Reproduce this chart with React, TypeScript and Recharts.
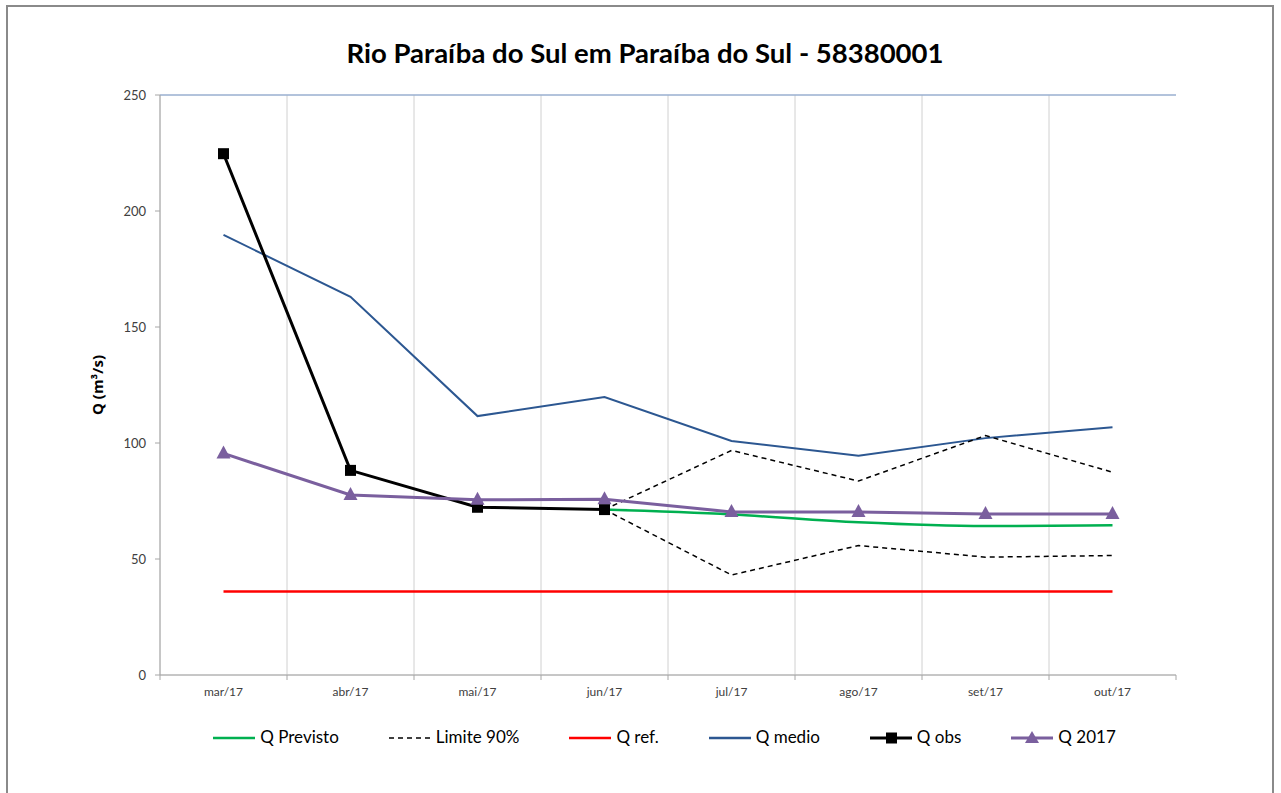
import { LineChart, Line, XAxis, YAxis, CartesianGrid, ReferenceLine } from 'recharts'

const months = ['mar/17', 'abr/17', 'mai/17', 'jun/17', 'jul/17', 'ago/17', 'set/17', 'out/17']
const qPrevisto = [null, null, null, 71.3, 69.2, 65.8, 64.2, 64.5]
const limSup = [null, null, null, 71.3, 96.8, 83.6, 103.2, 87.4]
const limInf = [null, null, null, 71.3, 43.1, 55.8, 50.8, 51.5]
const qRef = [36, 36, 36, 36, 36, 36, 36, 36]
const qMedio = [189.7, 163, 111.6, 119.8, 100.9, 94.5, 102.1, 106.8]
const qObs = [224.7, 88.2, 72.3, 71.3, null, null, null, null]
const q2017 = [95.5, 77.6, 75.5, 75.8, 70.3, 70.3, 69.4, 69.4]
const yTicks = [0, 50, 100, 150, 200, 250]

const data = months.map((m, i) => ({
  mes: m,
  previsto: qPrevisto[i],
  sup: limSup[i],
  inf: limInf[i],
  ref: qRef[i],
  medio: qMedio[i],
  obs: qObs[i],
  q2017: q2017[i],
}))

const FONT = 'Lato, "Open Sans", sans-serif'
const PLOT_LEFT = 160
const PLOT_W = 1016

const XTick = (props: any) => {
  const { x, y, payload, index } = props
  const bw = PLOT_W / months.length
  return (
    <g>
      <line x1={x - bw / 2} x2={x - bw / 2} y1={y} y2={y + 5} stroke="#a6a6a6" />
      {index === months.length - 1 && (
        <line x1={x + bw / 2} x2={x + bw / 2} y1={y} y2={y + 5} stroke="#a6a6a6" />
      )}
      <text x={x} y={y + 21} textAnchor="middle" fontSize={12} fill="#404040" fontFamily={FONT}>
        {payload.value}
      </text>
    </g>
  )
}

const SquareDot = (props: any) => {
  const { cx, cy, index } = props
  if (cy == null) return <g key={index} />
  return <rect key={index} x={cx - 5.5} y={cy - 5.5} width={11} height={11} fill="#000" />
}

const TriDot = (props: any) => {
  const { cx, cy, index } = props
  if (cy == null) return <g key={index} />
  return (
    <polygon
      key={index}
      points={`${cx},${cy - 8} ${cx - 7},${cy + 5} ${cx + 7},${cy + 5}`}
      fill="#7a5f9e"
    />
  )
}

const legendItems = [
  { name: 'Q Previsto', color: '#00b050', dash: undefined, marker: null },
  { name: 'Limite 90%', color: '#000', dash: '5 4', marker: null },
  { name: 'Q ref.', color: '#ff0000', dash: undefined, marker: null },
  { name: 'Q medio', color: '#2c5791', dash: undefined, marker: null },
  { name: 'Q obs', color: '#000', dash: undefined, marker: 'square' },
  { name: 'Q 2017', color: '#7a5f9e', dash: undefined, marker: 'tri' },
]

export default function App() {
  return (
    <div style={{ position: 'absolute', left: 0, top: 0, width: 1281, height: 793, overflow: 'hidden', background: '#fff' }}>
      <div
        style={{
          position: 'absolute',
          left: 6,
          top: 5,
          width: 1264,
          height: 820,
          border: '2px solid #8a8a8a',
        }}
      />
      <div
        style={{
          position: 'absolute',
          left: 0,
          width: 1290,
          top: 36,
          textAlign: 'center',
          fontFamily: FONT,
          fontWeight: 700,
          fontSize: 27.5,
          color: '#000',
        }}
      >
        Rio Paraíba do Sul em Paraíba do Sul - 58380001
      </div>
      <div
        style={{
          position: 'absolute',
          left: 97,
          top: 385,
          transform: 'translate(-50%, -50%) rotate(-90deg)',
          fontFamily: '"Open Sans", sans-serif',
          fontWeight: 700,
          fontSize: 15,
          whiteSpace: 'nowrap',
        }}
      >
        Q (m³/s)
      </div>
      <div style={{ position: 'absolute', left: 0, top: 0 }}>
        <LineChart
          width={1281}
          height={793}
          data={data}
          margin={{ top: 95, right: 105, bottom: 88, left: PLOT_LEFT - 60 }}
        >
          <CartesianGrid
            stroke="#d0d0d0"
            verticalCoordinatesGenerator={({ offset }: any) =>
              months.map((_, i) => offset.left + (i * offset.width) / months.length)
            }
          />
          <XAxis
            dataKey="mes"
            scale="band"
            tickLine={false}
            tickSize={0}
            tickMargin={0}
            height={30}
            axisLine={{ stroke: '#a6a6a6' }}
            tick={<XTick />}
            interval={0}
          />
          <YAxis
            yAxisId="l"
            width={60}
            domain={[0, 250]}
            ticks={yTicks}
            tickSize={5}
            tickMargin={9}
            axisLine={{ stroke: '#a6a6a6' }}
            tickLine={{ stroke: '#a6a6a6' }}
            tick={{ fontSize: 13, fill: '#404040', fontFamily: FONT }}
          />
          <YAxis
            yAxisId="r"
            orientation="right"
            width={0}
            domain={[0, 250]}
            tick={false}
            tickLine={false}
            axisLine={{ stroke: '#7f9fd0' }}
          />
          <ReferenceLine yAxisId="l" y={250} stroke="#7f9fd0" />
          <Line yAxisId="l" dataKey="ref" stroke="#ff0000" strokeWidth={2.5} dot={false} isAnimationActive={false} />
          <Line yAxisId="l" dataKey="medio" stroke="#2c5791" strokeWidth={2} dot={false} isAnimationActive={false} />
          <Line yAxisId="l" dataKey="sup" stroke="#000" strokeWidth={1.5} strokeDasharray="5 4" dot={false} isAnimationActive={false} />
          <Line yAxisId="l" dataKey="inf" stroke="#000" strokeWidth={1.5} strokeDasharray="5 4" dot={false} isAnimationActive={false} />
          <Line yAxisId="l" type="monotone" dataKey="previsto" stroke="#00b050" strokeWidth={2.5} dot={false} isAnimationActive={false} />
          <Line yAxisId="l" dataKey="obs" stroke="#000" strokeWidth={3} dot={<SquareDot />} isAnimationActive={false} />
          <Line yAxisId="l" dataKey="q2017" stroke="#7a5f9e" strokeWidth={3} dot={<TriDot />} isAnimationActive={false} />
        </LineChart>
      </div>
      <div
        style={{
          position: 'absolute',
          left: 0,
          width: 1328,
          top: 726,
          display: 'flex',
          justifyContent: 'center',
          gap: 49,
          fontFamily: FONT,
          fontSize: 17,
          color: '#000',
        }}
      >
        {legendItems.map((it) => (
          <div key={it.name} style={{ display: 'flex', alignItems: 'center' }}>
            <svg width={44} height={20} style={{ marginRight: 4 }}>
              <line x1={1} x2={43} y1={11} y2={11} stroke={it.color} strokeWidth={it.dash ? 1.5 : it.marker ? 3 : 2.5} strokeDasharray={it.dash} />
              {it.marker === 'square' && <rect x={17} y={5.5} width={11} height={11} fill="#000" />}
              {it.marker === 'tri' && <polygon points="22,4 15,16 29,16" fill="#7a5f9e" />}
            </svg>
            <span>{it.name}</span>
          </div>
        ))}
      </div>
    </div>
  )
}
